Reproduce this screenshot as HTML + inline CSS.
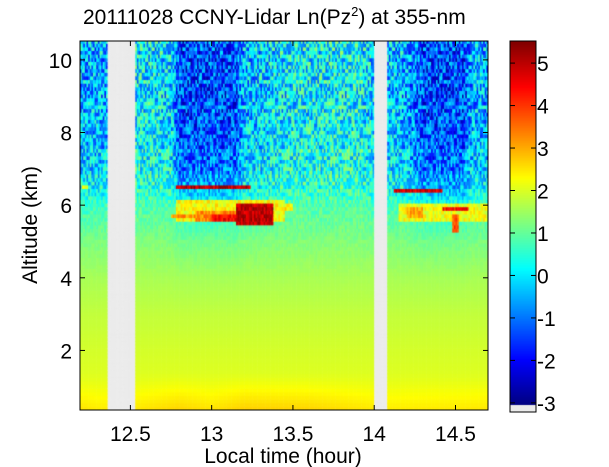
<!DOCTYPE html>
<html><head><meta charset="utf-8">
<style>
body{margin:0;background:#fff;width:609px;height:467px;overflow:hidden;font-family:"Liberation Sans",sans-serif;}
#wrap{position:relative;width:609px;height:467px;}
.t{position:absolute;color:#000;white-space:nowrap;}
</style></head><body>
<div id="wrap">
<div class="t" style="left:83px;top:4px;font-size:21px;">20111028 CCNY-Lidar Ln(Pz<sup style="font-size:13px">2</sup>) at 355-nm</div>
<canvas id="plot" width="408" height="369" style="position:absolute;left:80px;top:41px;"></canvas>
<canvas id="cbar" width="26" height="371" style="position:absolute;left:510px;top:41px;"></canvas>
<svg id="axes" width="609" height="467" style="position:absolute;left:0;top:0;"></svg>
</div>
<script>
// ---- data ----
const altKm    = [0.36,1.2,2.0,3.0,4.0,5.0,6.0,6.5,7.0,8.0,9.0,10.52];
const profile  = [2.3,2.05,1.95,1.8,1.6,1.3,0.95,0.75,0.6,0.5,0.45,0.4];
const noiseAlt = [0,0,0,0,0.02,0.1,0.3,0.7,0.9,1.0,1.05,1.1];
const darkTimes = [12.19,12.36,12.53,12.75,12.8,13.15,13.2,13.5,13.9,14.0,14.08,14.2,14.3,14.55,14.6,14.7];
const darkShift = [-0.9,-0.9,-0.3,-0.5,-1.8,-1.8,-0.8,-0.3,-0.2,-0.6,-0.7,-0.9,-1.8,-1.8,-0.9,-0.9];
const lowTimes = [12.19,12.3,12.53,12.8,13.0,13.2,13.6,13.9,14.08,14.7];
const lowBoost = [0.3,0.2,0.25,0.45,0.3,0.5,0.45,0.3,0.2,0.25];
// clouds: [t0,t1,z0,z1,value]
const clouds = [
 [12.78,13.24,6.42,6.6,5.0],
 [12.78,13.45,5.6,6.2,2.3],
 [12.9,13.3,5.55,5.9,3.3],
 [13.15,13.38,5.45,6.1,5.0],
 [13.0,13.15,5.55,5.75,4.5],
 [12.75,12.95,5.65,5.72,3.2],
 [14.12,14.42,6.33,6.5,4.8],
 [14.15,14.7,5.6,6.05,2.2],
 [14.42,14.58,5.85,6.0,4.4],
 [14.48,14.52,5.3,5.8,3.8],
 [14.2,14.3,5.7,6.0,3.0],
 [13.45,13.5,5.9,6.05,2.4],
 [12.2,12.24,6.45,6.6,2.4]
];
const gaps = [[12.36,12.53],[14.0,14.08]];
const noiseTable = [0.8,-0.6,0.1,-0.95,0.45,-0.2,0.9,-0.75,0.3,-0.4,0.65,-0.9,0.05,0.7,-0.55,0.2,-0.85,0.5,-0.1,0.95,-0.65,0.35,-0.3,0.75,-0.8,0.15,0.6,-0.45,0.85,-0.15,0.4,-0.7,0.25,-0.5,0.55,-1.0,0.1];
const xTicks = [12.5,13,13.5,14,14.5];
const yTicks = [2,4,6,8,10];
const cTicks = [-3,-2,-1,0,1,2,3,4,5];

// ---- scales ----
const T0=12.19,T1=14.70,Z0=0.36,Z1=10.52,W=408,H=369;
const xs=t=>(t-T0)/(T1-T0)*W;
const ys=z=>H-(z-Z0)/(Z1-Z0)*H;
const C0=-3.05,C1=5.52;
function interp(xa,ya,x){if(x<=xa[0])return ya[0];for(let i=1;i<xa.length;i++){if(x<=xa[i]){const f=(x-xa[i-1])/(xa[i]-xa[i-1]);return ya[i-1]+f*(ya[i]-ya[i-1]);}}return ya[ya.length-1];}
function jet(v){let f=(v-C0)/(C1-C0);f=Math.max(0,Math.min(1,f));
 const r=Math.max(0,Math.min(1,1.5-Math.abs(4*f-3))),g=Math.max(0,Math.min(1,1.5-Math.abs(4*f-2))),b=Math.max(0,Math.min(1,1.5-Math.abs(4*f-1)));
 return `rgb(${r*255|0},${g*255|0},${b*255|0})`;}
const NL=noiseTable.length;
function nz(a,b){return noiseTable[((a*a*7+b*b*3+a*b*11+a*5+b*19)%NL+NL)%NL];}

const ctx=document.getElementById('plot').getContext('2d');
const dt=0.01,dz=0.1;
let ci=0;
for(let t=T0;t<T1;t+=dt,ci++){
 let inGap=gaps.some(g=>t+dt/2>g[0]&&t+dt/2<g[1]);
 let rj=0;
 for(let z=Z0;z<Z1;z+=dz,rj++){
  const x0=xs(t),x1=xs(t+dt),y0=ys(z+dz),y1=ys(z);
  if(inGap){ctx.fillStyle='#ebebeb';ctx.fillRect(x0,y0,x1-x0+0.6,y1-y0+0.6);continue;}
  const tm=t+dt/2,zm=z+dz/2;
  const na=interp(altKm,noiseAlt,zm);
  let v=interp(altKm,profile,zm)+interp(darkTimes,darkShift,tm)*Math.min(1,na);
  v+=nz(ci,rj)*na*1.3;
  if(zm<1.4)v+=interp(lowTimes,lowBoost,tm)*(1.4-zm)*0.8;
  for(const c of clouds){if(tm>=c[0]&&tm<=c[1]&&zm>=c[2]&&zm<=c[3]){v=Math.max(v,c[4]+nz(ci+3,rj+5)*0.5);}}
  ctx.fillStyle=jet(v);ctx.fillRect(x0,y0,x1-x0+0.6,y1-y0+0.6);
 }
}
// colorbar
const cb=document.getElementById('cbar').getContext('2d');
for(let p=0;p<364;p++){const v=C1-(p/364)*(C1-C0);cb.fillStyle=jet(v);cb.fillRect(0,p,26,1);}
cb.fillStyle='#ebebeb';cb.fillRect(0,364,26,7);

// axes
const svg=document.getElementById('axes');const NS='http://www.w3.org/2000/svg';
function mk(tag,attrs,txt){const e=document.createElementNS(NS,tag);for(const k in attrs)e.setAttribute(k,attrs[k]);if(txt!==undefined)e.textContent=txt;svg.appendChild(e);return e;}
const frame=mk('rect',{x:80,y:41,width:408,height:369,fill:'none',stroke:'#000','stroke-width':1});


const cframe=mk('rect',{x:510,y:41,width:26,height:371,fill:'none',stroke:'#000','stroke-width':1});


for(const t of xTicks){const x=80+xs(t);
 mk('line',{x1:x,x2:x,y1:410,y2:405,stroke:'#000'});mk('line',{x1:x,x2:x,y1:41,y2:46,stroke:'#000'});
 const l=mk('text',{x:x,y:441,'text-anchor':'middle','font-size':21,'font-family':'Liberation Sans'},String(t));
 
 }
for(const z of yTicks){const y=41+ys(z);
 mk('line',{x1:80,x2:85,y1:y,y2:y,stroke:'#000'});mk('line',{x1:488,x2:483,y1:y,y2:y,stroke:'#000'});
 const l=mk('text',{x:72,y:y+8,'text-anchor':'end','font-size':21,'font-family':'Liberation Sans'},String(z));
 
 }
for(const c of cTicks){const y=41+(C1-c)/(C1-C0)*364;
 mk('line',{x1:536,x2:531,y1:y,y2:y,stroke:'#000'});mk('line',{x1:510,x2:515,y1:y,y2:y,stroke:'#000'});
 const l=mk('text',{x:537,y:y+8,'font-size':21,'font-family':'Liberation Sans'},String(c));
 
 }
const xt=mk('text',{x:283,y:463,'text-anchor':'middle','font-size':21,'font-family':'Liberation Sans'},'Local time (hour)');


const yt=mk('text',{x:37,y:225,'text-anchor':'middle','font-size':21,'font-family':'Liberation Sans',transform:'rotate(-90 37 225)'},'Altitude (km)');


</script>
</body></html>
